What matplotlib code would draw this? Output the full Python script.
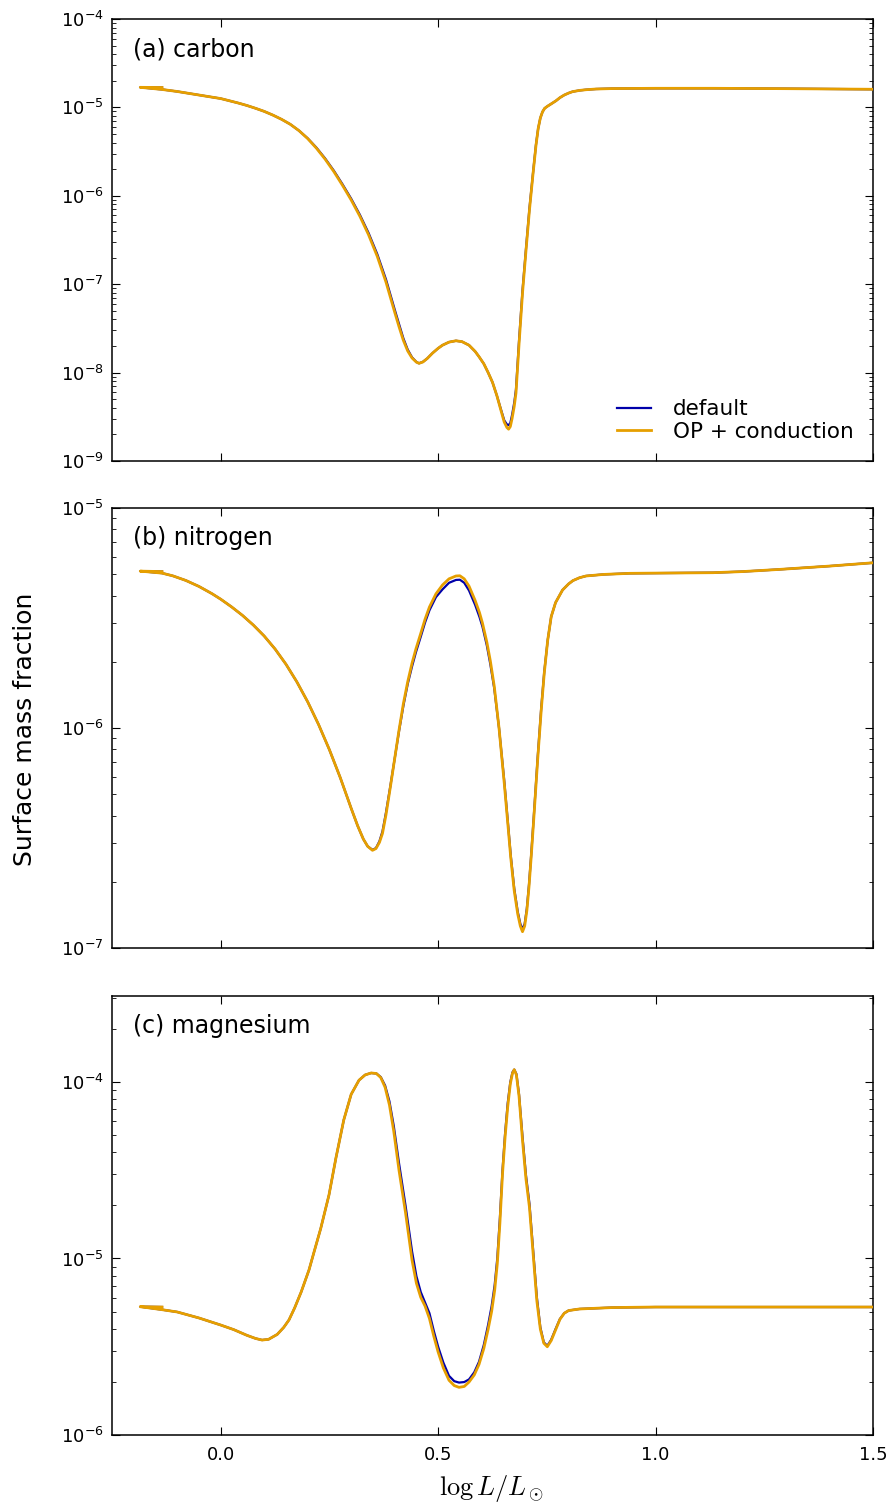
import numpy as np
import matplotlib
matplotlib.use("Agg")
import matplotlib.pyplot as plt
from matplotlib.ticker import LogLocator, NullFormatter

# ---------------- data: log10(surface mass fraction) vs log L/Lsun -------------
carbon_x = [-0.135, -0.185, -0.135, -0.10, -0.05, 0.0, 0.02, 0.04, 0.06, 0.08, 0.10,
            0.12, 0.14, 0.16, 0.18, 0.20, 0.22, 0.24, 0.26, 0.28, 0.30, 0.32, 0.34,
            0.36, 0.38, 0.40, 0.41, 0.42, 0.43, 0.44, 0.45, 0.456, 0.465, 0.475,
            0.487, 0.50, 0.51, 0.525, 0.541, 0.555, 0.571, 0.585, 0.594, 0.605,
            0.615, 0.625, 0.635, 0.644, 0.652, 0.658, 0.662, 0.666, 0.670, 0.675,
            0.679, 0.686, 0.694, 0.702, 0.710, 0.718, 0.725, 0.730, 0.735, 0.740,
            0.745, 0.752, 0.760, 0.771, 0.780, 0.790, 0.800, 0.809, 0.825, 0.84,
            0.863, 0.9, 1.0, 1.132, 1.3, 1.5]
carbon_op = [-4.775, -4.773, -4.797, -4.82, -4.86, -4.90, -4.925, -4.950, -4.978, -5.010, -5.045,
             -5.087, -5.135, -5.191, -5.263, -5.353, -5.461, -5.585, -5.725, -5.881, -6.047, -6.231, -6.441,
             -6.685, -6.975, -7.315, -7.48, -7.635, -7.755, -7.835, -7.882, -7.895, -7.88, -7.84,
             -7.78, -7.725, -7.69, -7.655, -7.64, -7.65, -7.69, -7.76, -7.82, -7.90,
             -8.00, -8.11, -8.26, -8.42, -8.56, -8.62, -8.64, -8.61, -8.52, -8.38,
             -8.23, -7.68, -7.10, -6.62, -6.16, -5.76, -5.43, -5.24, -5.12, -5.05,
             -5.01, -4.985, -4.96, -4.925, -4.89, -4.86, -4.838, -4.822, -4.808, -4.80,
             -4.792, -4.787, -4.784, -4.784, -4.788, -4.795]
carbon_def = [-4.775, -4.773, -4.797, -4.82, -4.86, -4.90, -4.925, -4.950, -4.978, -5.010, -5.045,
              -5.087, -5.135, -5.191, -5.263, -5.350, -5.455, -5.577, -5.715, -5.869, -6.033, -6.215, -6.421,
              -6.660, -6.945, -7.285, -7.45, -7.612, -7.74, -7.828, -7.88, -7.895, -7.878, -7.84,
              -7.78, -7.725, -7.69, -7.655, -7.64, -7.65, -7.69, -7.76, -7.82, -7.90,
              -8.00, -8.11, -8.26, -8.41, -8.54, -8.585, -8.595, -8.57, -8.48, -8.34,
              -8.19, -7.64, -7.07, -6.60, -6.14, -5.75, -5.42, -5.24, -5.12, -5.05,
              -5.01, -4.985, -4.96, -4.925, -4.89, -4.86, -4.838, -4.822, -4.808, -4.80,
              -4.792, -4.787, -4.784, -4.784, -4.788, -4.795]

nitrogen_x = [-0.135, -0.185, -0.135, -0.11, -0.08, -0.05, -0.02, 0.0, 0.025, 0.05, 0.075,
              0.10, 0.125, 0.15, 0.175, 0.20, 0.225, 0.25, 0.275, 0.30, 0.315, 0.328,
              0.338, 0.349, 0.357, 0.365, 0.372, 0.38, 0.39, 0.40, 0.41, 0.42, 0.43,
              0.44, 0.449, 0.46, 0.47, 0.48, 0.495, 0.51, 0.525, 0.541, 0.55, 0.56,
              0.571, 0.585, 0.595, 0.602, 0.612, 0.62, 0.629, 0.64, 0.652, 0.66,
              0.667, 0.675, 0.683, 0.689, 0.694, 0.699, 0.704, 0.709, 0.714, 0.72,
              0.729, 0.737, 0.744, 0.752, 0.760, 0.770, 0.786, 0.80, 0.81, 0.825,
              0.840, 0.88, 0.940, 1.0, 1.132, 1.2, 1.286, 1.4, 1.5]
nitrogen_op = [-5.289, -5.287, -5.296, -5.3085, -5.3295, -5.3565, -5.3895, -5.4145, -5.4495, -5.488, -5.532,
               -5.582, -5.641, -5.710, -5.790, -5.881, -5.984, -6.099, -6.226, -6.365, -6.445, -6.505,
               -6.538, -6.556, -6.548, -6.52, -6.479, -6.395, -6.27, -6.14, -6.01, -5.89, -5.79,
               -5.705, -5.64, -5.57, -5.505, -5.45, -5.39, -5.35, -5.322, -5.309, -5.308, -5.322,
               -5.355, -5.42, -5.475, -5.524, -5.61, -5.695, -5.81, -6.00, -6.25, -6.43,
               -6.59, -6.74, -6.845, -6.90, -6.926, -6.90, -6.83, -6.72, -6.585, -6.41,
               -6.14, -5.92, -5.751, -5.60, -5.494, -5.43, -5.373, -5.345, -5.33, -5.317,
               -5.309, -5.302, -5.297, -5.296, -5.294, -5.289, -5.279, -5.264, -5.249]
nitrogen_def = [-5.289, -5.287, -5.296, -5.3085, -5.3295, -5.3565, -5.3895, -5.4145, -5.4495, -5.488, -5.532,
                -5.582, -5.641, -5.710, -5.790, -5.881, -5.984, -6.099, -6.226, -6.365, -6.445, -6.505,
                -6.538, -6.554, -6.546, -6.515, -6.47, -6.385, -6.265, -6.14, -6.015, -5.90, -5.80,
                -5.72, -5.655, -5.585, -5.52, -5.465, -5.405, -5.37, -5.34, -5.327, -5.326, -5.34,
                -5.375, -5.44, -5.495, -5.54, -5.625, -5.71, -5.82, -6.00, -6.24, -6.42,
                -6.58, -6.73, -6.835, -6.89, -6.915, -6.89, -6.82, -6.71, -6.575, -6.40,
                -6.13, -5.91, -5.745, -5.60, -5.494, -5.43, -5.373, -5.345, -5.33, -5.317,
                -5.309, -5.302, -5.297, -5.296, -5.294, -5.289, -5.279, -5.264, -5.249]

magnesium_x = [-0.135, -0.185, -0.135, -0.10, -0.05, 0.0, 0.03, 0.06, 0.08, 0.095, 0.11,
               0.13, 0.145, 0.157, 0.17, 0.185, 0.203, 0.215, 0.23, 0.249, 0.265, 0.283,
               0.30, 0.318, 0.332, 0.346, 0.358, 0.368, 0.378, 0.388, 0.398, 0.41, 0.425,
               0.44, 0.45, 0.46, 0.47, 0.48, 0.49, 0.50, 0.512, 0.525, 0.537, 0.548,
               0.56, 0.571, 0.583, 0.594, 0.605, 0.615, 0.623, 0.63, 0.636, 0.642,
               0.648, 0.654, 0.66, 0.666, 0.671, 0.675, 0.68, 0.686, 0.694, 0.702,
               0.71, 0.719, 0.727, 0.735, 0.743, 0.751, 0.76, 0.77, 0.78, 0.79, 0.80,
               0.825, 0.9, 1.0, 1.5]
magnesium_op = [-5.275, -5.273, -5.29, -5.303, -5.337, -5.377, -5.403, -5.435, -5.453, -5.462, -5.458,
                -5.43, -5.39, -5.348, -5.28, -5.19, -5.065, -4.96, -4.83, -4.64, -4.43, -4.215,
                -4.07, -3.99, -3.96, -3.949, -3.952, -3.975, -4.03, -4.13, -4.28, -4.50, -4.74,
                -5.01, -5.14, -5.22, -5.27, -5.34, -5.44, -5.53, -5.62, -5.69, -5.72, -5.73,
                -5.725, -5.70, -5.66, -5.60, -5.51, -5.40, -5.30, -5.18, -5.03, -4.80,
                -4.52, -4.31, -4.14, -4.01, -3.95, -3.93, -3.96, -4.08, -4.33, -4.55,
                -4.71, -4.99, -5.24, -5.40, -5.48, -5.50, -5.465, -5.405, -5.345, -5.31, -5.295,
                -5.286, -5.278, -5.275, -5.275]
magnesium_def = [-5.275, -5.273, -5.29, -5.303, -5.337, -5.377, -5.403, -5.435, -5.453, -5.462, -5.458,
                 -5.43, -5.39, -5.348, -5.28, -5.19, -5.065, -4.96, -4.83, -4.64, -4.43, -4.215,
                 -4.07, -3.99, -3.96, -3.949, -3.952, -3.972, -4.02, -4.11, -4.25, -4.46, -4.70,
                 -4.96, -5.10, -5.19, -5.25, -5.31, -5.41, -5.50, -5.59, -5.665, -5.695, -5.703,
                 -5.70, -5.685, -5.645, -5.585, -5.49, -5.375, -5.27, -5.15, -5.00, -4.77,
                 -4.50, -4.29, -4.12, -4.00, -3.945, -3.93, -3.955, -4.07, -4.31, -4.53,
                 -4.69, -4.97, -5.22, -5.39, -5.475, -5.495, -5.46, -5.40, -5.343, -5.31, -5.295,
                 -5.286, -5.278, -5.275, -5.275]

panel_labels = ["(a) carbon", "(b) nitrogen", "(c) magnesium"]
series_labels = ["default", "OP + conduction"]
ylims = [(1e-9, 1e-4), (1e-7, 1e-5), (1e-6, 3.07e-4)]
xticks = [0.0, 0.5, 1.0, 1.5]
xticklabels = ["0.0", "0.5", "1.0", "1.5"]

# ---------------- styling ----------------
plt.rcParams.update({
    "font.family": "DejaVu Sans",
    "xtick.direction": "in", "ytick.direction": "in",
    "xtick.top": True, "ytick.right": True,
    "xtick.major.size": 6, "ytick.major.size": 6,
    "xtick.minor.size": 3, "ytick.minor.size": 3,
    "xtick.major.width": 0.8, "ytick.major.width": 0.8,
    "xtick.minor.width": 0.6, "ytick.minor.width": 0.6,
    "axes.linewidth": 1.1,
    "xtick.labelsize": 13, "ytick.labelsize": 13,
    "xtick.major.pad": 8, "ytick.major.pad": 6,
})

blue = "#0000aa"
orange = "#e69f00"

fig = plt.figure(figsize=(8.92, 15.08), dpi=100)
left, right = 112 / 892, 873 / 892
tops = [19, 508, 996]
bottoms = [461, 948, 1435]
H = 1508

datasets = [
    (carbon_x, carbon_def, carbon_op),
    (nitrogen_x, nitrogen_def, nitrogen_op),
    (magnesium_x, magnesium_def, magnesium_op),
]

axes = []
for i, (xs, yd, yo) in enumerate(datasets):
    assert len(xs) == len(yd) == len(yo)
    b = 1 - bottoms[i] / H
    t = 1 - tops[i] / H
    ax = fig.add_axes([left, b, right - left, t - b])
    axes.append(ax)
    xs = np.array(xs)
    ax.plot(xs, 10 ** np.array(yd), color=blue, lw=1.6, label=series_labels[0], zorder=2,
            solid_joinstyle="round")
    ax.plot(xs, 10 ** np.array(yo), color=orange, lw=2.0, label=series_labels[1], zorder=3,
            solid_joinstyle="round")
    ax.set_yscale("log")
    ax.set_xlim(-0.25, 1.5)
    ax.set_ylim(*ylims[i])
    ax.set_xticks(xticks)
    ax.yaxis.set_major_locator(LogLocator(base=10, numticks=20))
    ax.yaxis.set_minor_locator(LogLocator(base=10, subs=np.arange(2, 10), numticks=20))
    ax.yaxis.set_minor_formatter(NullFormatter())
    ax.text(0.027, 0.958, panel_labels[i], transform=ax.transAxes, fontsize=17,
            ha="left", va="top")
    if i < 2:
        ax.set_xticklabels([])
    else:
        ax.set_xticklabels(xticklabels)

leg = axes[0].legend(loc="lower right", frameon=False, fontsize=15.5,
                     handlelength=1.6, handletextpad=1.0, labelspacing=0.1,
                     borderaxespad=0.5)

fig.text(25 / 892, 1 - 729 / H, "Surface mass fraction", rotation=90,
         ha="center", va="center", fontsize=18)
fig.text(492 / 892, 1 - 1488 / H, r"$\log L/L_\odot$", ha="center", va="center",
         fontsize=19, math_fontfamily="cm")

fig.savefig("out.png", dpi=100, facecolor="white")
